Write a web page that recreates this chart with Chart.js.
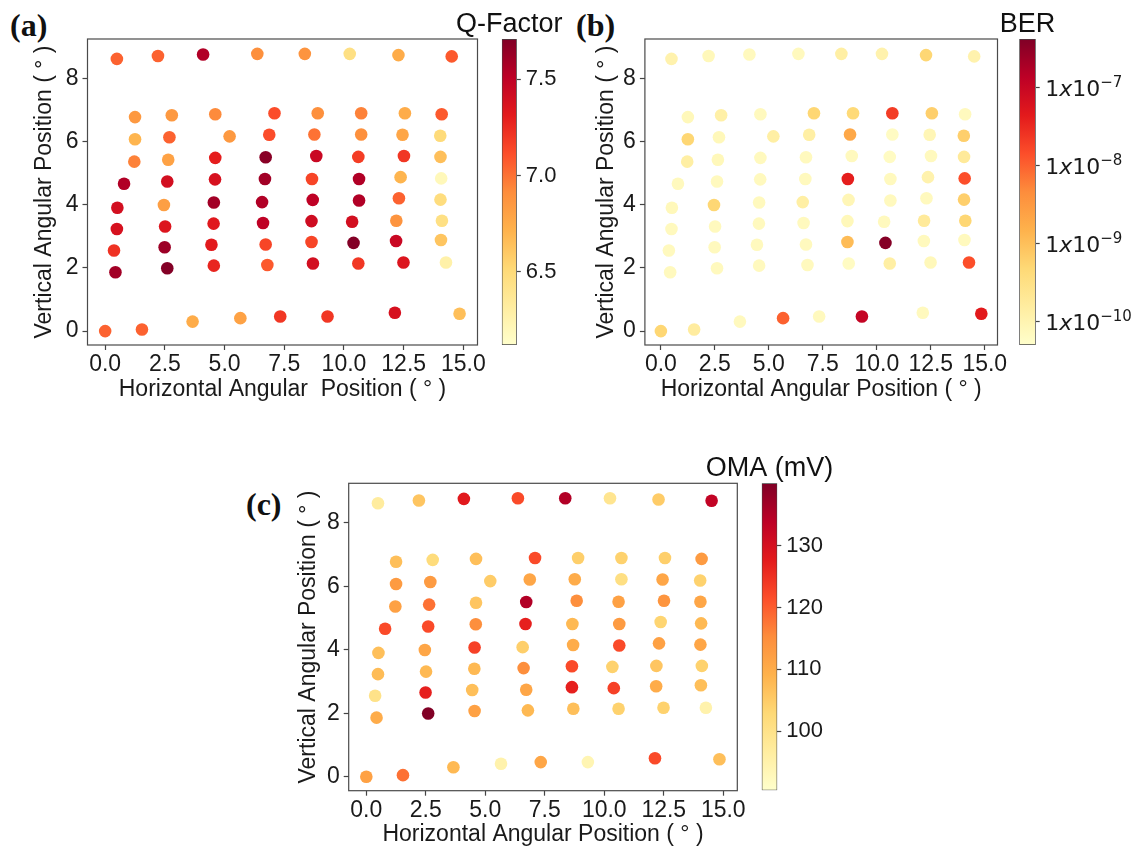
<!DOCTYPE html>
<html>
<head>
<meta charset="utf-8">
<script src="https://cdn.jsdelivr.net/npm/chart.js@4.4.1/dist/chart.umd.min.js"></script>
<style>
  body { margin: 0; background: #fff; width: 1146px; height: 850px; position: relative; overflow: hidden; }
  canvas { position: absolute; }
  .tag { position: absolute; font: bold 32px "Liberation Serif", "Times New Roman", serif; line-height: 1; color: #111; }
</style>
</head>
<body>
<div class="tag" style="left:10px;top:9px">(a)</div>
<div class="tag" style="left:576px;top:9px">(b)</div>
<div class="tag" style="left:246px;top:488px">(c)</div>

<canvas id="scA" width="500" height="410" style="left:0;top:0"></canvas>
<canvas id="cbA" width="130" height="410" style="left:440px;top:0"></canvas>
<canvas id="scB" width="450" height="410" style="left:560px;top:0"></canvas>
<canvas id="cbB" width="196" height="410" style="left:950px;top:0"></canvas>
<canvas id="scC" width="520" height="410" style="left:240px;top:440px"></canvas>
<canvas id="cbC" width="180" height="410" style="left:680px;top:440px"></canvas>

<script>
// measurement positions (same grid in all three panels): top row, 8 columns, bottom row
const hPos = [
  0.49, 2.21, 4.10, 6.37, 8.36, 10.24, 12.28, 14.51,
  1.25, 1.25, 1.22, 0.79, 0.51, 0.49, 0.37, 0.43,
  2.79, 2.69, 2.64, 2.60, 2.46, 2.51, 2.49, 2.60,
  4.61, 5.21, 4.61, 4.60, 4.55, 4.54, 4.45, 4.55,
  7.09, 6.87, 6.72, 6.69, 6.57, 6.61, 6.72, 6.79,
  8.90, 8.76, 8.84, 8.66, 8.69, 8.64, 8.64, 8.70,
  10.72, 10.72, 10.60, 10.63, 10.63, 10.34, 10.40, 10.60,
  12.55, 12.45, 12.51, 12.37, 12.30, 12.19, 12.18, 12.49,
  14.09, 14.03, 14.04, 14.07, 14.04, 14.10, 14.06, 14.27,
  0.00, 1.54, 3.66, 5.66, 7.33, 9.31, 12.13, 14.84
];
const vPos = [
  8.61, 8.70, 8.75, 8.77, 8.77, 8.77, 8.73, 8.69,
  6.77, 6.07, 5.36, 4.66, 3.90, 3.23, 2.55, 1.86,
  6.83, 6.13, 5.42, 4.73, 3.99, 3.31, 2.65, 1.99,
  6.86, 6.16, 5.48, 4.80, 4.07, 3.40, 2.73, 2.07,
  6.89, 6.21, 5.50, 4.81, 4.08, 3.42, 2.74, 2.09,
  6.89, 6.22, 5.54, 4.81, 4.15, 3.48, 2.82, 2.14,
  6.89, 6.22, 5.51, 4.81, 4.13, 3.46, 2.79, 2.14,
  6.89, 6.21, 5.54, 4.87, 4.20, 3.49, 2.85, 2.17,
  6.86, 6.18, 5.51, 4.83, 4.16, 3.49, 2.88, 2.17,
  0.00, 0.05, 0.30, 0.41, 0.46, 0.46, 0.58, 0.55
];
const qFactor = [
  7.05, 7.05, 7.55, 6.90, 6.88, 6.45, 6.75, 7.08,
  6.85, 6.70, 6.95, 7.55, 7.40, 7.38, 7.22, 7.60,
  6.85, 7.05, 6.80, 7.40, 6.82, 7.35, 7.62, 7.70,
  6.92, 6.85, 7.30, 7.38, 7.60, 7.33, 7.32, 7.27,
  7.12, 7.12, 7.68, 7.60, 7.55, 7.50, 7.15, 7.08,
  6.90, 7.00, 7.45, 7.15, 7.50, 7.42, 7.15, 7.40,
  6.95, 6.90, 7.18, 7.55, 7.55, 7.40, 7.70, 7.20,
  6.75, 6.78, 7.20, 6.70, 7.05, 6.88, 7.45, 7.35,
  7.08, 6.50, 6.65, 6.20, 6.48, 6.45, 6.62, 6.28,
  7.05, 7.05, 6.75, 6.80, 7.20, 7.20, 7.38, 6.65
];
const ber = [
  1.1e-10, 7.9e-11, 7.1e-11, 7.1e-11, 1.4e-10, 1.1e-10, 5.0e-10, 1.1e-10,
  7.9e-11, 5.0e-10, 1.4e-10, 7.1e-11, 7.9e-11, 7.1e-11, 7.1e-11, 7.1e-11,
  1.3e-10, 7.9e-11, 7.9e-11, 7.1e-11, 5.0e-10, 7.1e-11, 7.1e-11, 7.1e-11,
  7.1e-11, 1.4e-10, 7.1e-11, 7.1e-11, 7.1e-11, 7.1e-11, 7.1e-11, 7.1e-11,
  5.0e-10, 1.4e-10, 7.1e-11, 7.1e-11, 1.4e-10, 7.1e-11, 7.1e-11, 7.1e-11,
  4.5e-10, 2.0e-9, 7.1e-11, 4.0e-8, 8.9e-11, 7.9e-11, 1.1e-9, 6.3e-11,
  2.1e-8, 6.3e-11, 6.3e-11, 7.1e-11, 7.1e-11, 7.1e-11, 3.8e-7, 1.4e-10,
  6.3e-10, 8.9e-11, 7.1e-11, 1.1e-10, 7.1e-11, 1.8e-10, 7.1e-11, 7.9e-11,
  7.1e-11, 6.3e-10, 1.8e-10, 1.4e-8, 6.3e-10, 5.0e-10, 7.1e-11, 1.4e-8,
  5.0e-10, 1.6e-10, 7.1e-11, 1.0e-8, 7.1e-11, 1.1e-7, 7.1e-11, 4.5e-8
];
const oma = [
  97, 106, 128, 122, 135, 99, 105, 133,
  107, 113, 112, 122, 107, 107.5, 100, 110,
  102, 113, 118, 122, 111, 108, 127, 140,
  107, 105, 106, 115, 123, 108, 107, 112,
  122, 111, 135, 127, 104.5, 115, 111, 108,
  104.5, 110, 115, 108, 110, 122, 127, 107,
  104, 101, 112, 113, 122, 104, 123, 104,
  104.5, 111, 114, 103.5, 112, 106, 110, 104,
  113, 104, 111, 108, 111, 104, 107, 95,
  112, 118, 108, 95, 111, 94, 122, 107
];

// colour bar limits and tick values
const qRange = [6.12, 7.71];
const berRange = [5.0e-11, 4.17e-7];
const omaRange = [90.45, 140.1];
const qTicks = [6.5, 7.0, 7.5];
const berTicks = [1e-10, 1e-9, 1e-8, 1e-7];
const omaTicks = [100, 110, 120, 130];
const xTicks = [0, 2.5, 5, 7.5, 10, 12.5, 15];
const yTicks = [0, 2, 4, 6, 8];

const YLORRD = ['#ffffcc', '#ffeda0', '#fed976', '#feb24c', '#fd8d3c', '#fc4e2a', '#e31a1c', '#bd0026', '#800026'];

Chart.defaults.font.family = '"Liberation Sans", Arial, sans-serif';
Chart.defaults.color = '#1a1a1a';

function hexRgb(h) {
  return [1, 3, 5].map(i => parseInt(h.slice(i, i + 2), 16));
}

function cmap(t) {
  t = Math.min(1, Math.max(0, t));
  const p = t * (YLORRD.length - 1);
  const i = Math.min(Math.floor(p), YLORRD.length - 2);
  const f = p - i;
  const a = hexRgb(YLORRD[i]), b = hexRgb(YLORRD[i + 1]);
  const c = a.map((v, k) => Math.round(v + (b[k] - v) * f));
  return `rgb(${c[0]},${c[1]},${c[2]})`;
}

const framePlugin = {
  id: 'frame',
  afterDraw(chart) {
    const { ctx, chartArea: a } = chart;
    ctx.save();
    ctx.strokeStyle = '#4a4a4a';
    ctx.lineWidth = 1.2;
    ctx.strokeRect(a.left, a.top, a.right - a.left, a.bottom - a.top);
    ctx.restore();
  }
};

const cbTitlePlugin = {
  id: 'cbTitle',
  afterDraw(chart, args, opts) {
    const { ctx, chartArea: a } = chart;
    ctx.save();
    ctx.font = '27px "Liberation Sans", Arial, sans-serif';
    ctx.fillStyle = '#111';
    ctx.textAlign = 'center';
    ctx.textBaseline = 'alphabetic';
    ctx.fillText(opts.text, (a.left + a.right) / 2, a.top - 7);
    ctx.restore();
  }
};

// "1x10^-n" labels for the log colour bar, with a raised exponent
const sciTickPlugin = {
  id: 'sciTicks',
  afterDraw(chart) {
    const { ctx, chartArea: a } = chart;
    const s = chart.scales.y;
    ctx.save();
    ctx.fillStyle = '#1a1a1a';
    ctx.textAlign = 'left';
    ctx.textBaseline = 'alphabetic';
    s.ticks.forEach(t => {
      const y = s.getPixelForValue(t.value);
      const exp = Math.round(Math.log10(t.value));
      const parts = [
        ['1', '22px "DejaVu Sans", sans-serif', 8.5],
        ['x', 'oblique 22px "DejaVu Sans", sans-serif', 8.5],
        ['10', '22px "DejaVu Sans", sans-serif', 8.5],
        ['\u2212' + Math.abs(exp), '15px "DejaVu Sans", sans-serif', -0.5]
      ];
      let x = a.right + 9.5;
      parts.forEach(([txt, font, dy]) => {
        ctx.font = font;
        ctx.fillText(txt, x, y + dy);
        x += ctx.measureText(txt).width;
      });
    });
    ctx.restore();
  }
};

function scatterPanel(id, colors, box) {
  const el = document.getElementById(id);
  new Chart(el, {
    type: 'scatter',
    data: {
      datasets: [{
        data: hPos.map((x, i) => ({ x: x, y: vPos[i] })),
        pointBackgroundColor: colors,
        pointBorderWidth: 0,
        pointRadius: 6.3,
        pointHoverRadius: 6.3
      }]
    },
    options: {
      responsive: false,
      animation: false,
      layout: { padding: { top: box.top, right: el.width - box.right, left: 0, bottom: 0 } },
      plugins: { legend: { display: false }, tooltip: { enabled: false } },
      scales: {
        x: {
          type: 'linear', min: -0.74, max: 15.59,
          afterBuildTicks: s => { s.ticks = xTicks.map(v => ({ value: v })); },
          afterFit: s => { s.height = el.height - box.bottom; },
          ticks: { callback: v => v.toFixed(1), font: { size: 23 }, padding: 1, maxRotation: 0 },
          grid: { drawOnChartArea: false, tickLength: 5, tickColor: '#444', tickWidth: 1.2 },
          border: { display: false },
          title: { display: true, text: box.xTitle, font: { size: 23 }, padding: { bottom: box.xPad, top: 0 } }
        },
        y: {
          type: 'linear', min: -0.44, max: 9.24,
          afterBuildTicks: s => { s.ticks = yTicks.map(v => ({ value: v })); },
          afterFit: s => { s.width = box.left; },
          ticks: { callback: v => String(v), font: { size: 23 }, padding: 4 },
          grid: { drawOnChartArea: false, tickLength: 5, tickColor: '#444', tickWidth: 1.2 },
          border: { display: false },
          title: { display: true, text: 'Vertical Angular Position ( ° )', font: { size: 23 }, padding: { top: box.yPad, bottom: 0 } }
        }
      }
    },
    plugins: [framePlugin]
  });
}

function colorbar(id, range, ticks, box) {
  const el = document.getElementById(id);
  const isLog = box.log === true;
  new Chart(el, {
    type: 'bar',
    data: {
      labels: [''],
      datasets: [{
        data: [[range[0], range[1]]],
        backgroundColor: ctx => {
          const area = ctx.chart.chartArea;
          if (!area) return '#fff';
          const g = ctx.chart.ctx.createLinearGradient(0, area.bottom, 0, area.top);
          YLORRD.forEach((c, i) => g.addColorStop(i / (YLORRD.length - 1), c));
          return g;
        },
        borderColor: '#444',
        borderWidth: 1,
        borderSkipped: false,
        barPercentage: 1,
        categoryPercentage: 1
      }]
    },
    options: {
      responsive: false,
      animation: false,
      layout: { padding: { left: box.left, top: box.top, bottom: el.height - box.bottom, right: 0 } },
      plugins: { legend: { display: false }, tooltip: { enabled: false }, cbTitle: { text: box.title } },
      scales: {
        x: { display: false },
        y: {
          type: isLog ? 'logarithmic' : 'linear',
          position: 'right',
          min: range[0], max: range[1],
          afterBuildTicks: s => { s.ticks = ticks.map(v => ({ value: v })); },
          afterFit: s => { s.width = el.width - box.right; },
          ticks: { callback: box.fmt, font: { size: 22 }, padding: 5 },
          grid: { drawOnChartArea: false, tickLength: 4, tickColor: '#444', tickWidth: 1.2 },
          border: { display: false }
        }
      }
    },
    plugins: isLog ? [cbTitlePlugin, sciTickPlugin] : [cbTitlePlugin]
  });
}

// (a) Q-factor
scatterPanel('scA', qFactor.map(q => cmap((q - qRange[0]) / (qRange[1] - qRange[0]))),
  { left: 87.5, right: 477.5, top: 39, bottom: 345, yPad: 31.2, xPad: 6.2, xTitle: 'Horizontal Angular  Position ( ° )' });
colorbar('cbA', qRange, qTicks,
  { left: 61.8, right: 76.8, top: 39, bottom: 345, title: 'Q-Factor', fmt: v => v.toFixed(1) });

// (b) BER, log colour scale
const berLo = Math.log10(berRange[0]), berHi = Math.log10(berRange[1]);
scatterPanel('scB', ber.map(b => cmap((Math.log10(b) - berLo) / (berHi - berLo))),
  { left: 84.9, right: 437.5, top: 39, bottom: 345, yPad: 33.2, xPad: 6.2, xTitle: 'Horizontal Angular Position ( ° )' });
colorbar('cbB', berRange, berTicks,
  { left: 69.3, right: 85.7, top: 39, bottom: 345, title: 'BER', log: true, fmt: () => '' });

// (c) OMA
scatterPanel('scC', oma.map(o => cmap((o - omaRange[0]) / (omaRange[1] - omaRange[0]))),
  { left: 108.7, right: 497.3, top: 43.3, bottom: 350.7, yPad: 55.2, xPad: 1.2, xTitle: 'Horizontal Angular Position ( ° )' });
colorbar('cbC', omaRange, omaTicks,
  { left: 81.7, right: 97.3, top: 43.3, bottom: 350.3, title: 'OMA (mV)', fmt: v => String(v) });
</script>
</body>
</html>
